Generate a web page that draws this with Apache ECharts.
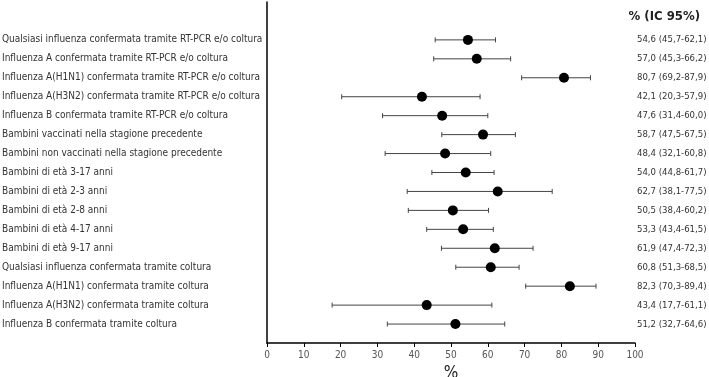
<!DOCTYPE html>
<html>
<head>
<meta charset="utf-8">
<script src="https://cdn.jsdelivr.net/npm/echarts@6/dist/echarts.min.js"></script>
<style>
  html, body { margin: 0; padding: 0; background: #fff; }
  #chart { width: 709px; height: 377px; }
</style>
</head>
<body>
<div id="chart"></div>
<script>
// righe del forest plot (dall'alto verso il basso)
var categories = [
  'Qualsiasi influenza confermata tramite RT-PCR e/o coltura',
  'Influenza A confermata tramite RT-PCR e/o coltura',
  'Influenza A(H1N1) confermata tramite RT-PCR e/o coltura',
  'Influenza A(H3N2) confermata tramite RT-PCR e/o coltura',
  'Influenza B confermata tramite RT-PCR e/o coltura',
  'Bambini vaccinati nella stagione precedente',
  'Bambini non vaccinati nella stagione precedente',
  'Bambini di età 3-17 anni',
  'Bambini di età 2-3 anni',
  'Bambini di età 2-8 anni',
  'Bambini di età 4-17 anni',
  'Bambini di età 9-17 anni',
  'Qualsiasi influenza confermata tramite coltura',
  'Influenza A(H1N1) confermata tramite coltura',
  'Influenza A(H3N2) confermata tramite coltura',
  'Influenza B confermata tramite coltura'
]
var estimates = [54.6, 57.0, 80.7, 42.1, 47.6, 58.7, 48.4, 54.0, 62.7, 50.5, 53.3, 61.9, 60.8, 82.3, 43.4, 51.2]
var lower = [45.7, 45.3, 69.2, 20.3, 31.4, 47.5, 32.1, 44.8, 38.1, 38.4, 43.4, 47.4, 51.3, 70.3, 17.7, 32.7]
var upper = [62.1, 66.2, 87.9, 57.9, 60.0, 67.5, 60.8, 61.7, 77.5, 60.2, 61.5, 72.3, 68.5, 89.4, 61.1, 64.6]
var xTicks = [0, 10, 20, 30, 40, 50, 60, 70, 80, 90, 100]

var font = '"Liberation Sans Narrow", "DejaVu Sans Condensed", sans-serif'

function fmt(v) {
  return v.toFixed(1).replace('.', ',')
}
var ciLabels = estimates.map(function (e, i) {
  return fmt(e) + ' (' + fmt(lower[i]) + '-' + fmt(upper[i]) + ')'
})

var pointData = estimates.map(function (e, i) { return [e, i] })
var barData = estimates.map(function (e, i) { return [lower[i], upper[i], i] })

var myChart = echarts.init(document.getElementById('chart'), null, { renderer: 'canvas' })

var option = {
  animation: false,
  backgroundColor: '#fff',
  title: {
    text: '% (IC 95%)',
    right: 4,
    top: 5,
    textStyle: { fontFamily: font, fontSize: 13, fontWeight: 'bold', color: '#222' }
  },
  grid: { left: 267, right: 74, top: 2, bottom: 34, outerBoundsMode: 'none', containLabel: false },
  xAxis: {
    type: 'value',
    min: 0,
    max: 100,
    interval: 10,
    name: '%',
    nameLocation: 'middle',
    nameGap: 17,
    nameTextStyle: { fontFamily: font, fontSize: 17, color: '#222' },
    axisLine: { onZero: false, lineStyle: { color: '#000', width: 1.5 } },
    axisTick: { show: true, length: 4, lineStyle: { color: '#000' } },
    axisLabel: {
      margin: 7,
      fontFamily: font,
      fontSize: 10,
      color: '#555',
      formatter: function (v) { return xTicks.indexOf(v) >= 0 ? String(v) : '' }
    },
    splitLine: { show: false }
  },
  yAxis: [
    {
      type: 'value',
      min: -2,
      max: 16,
      interval: 1,
      inverse: true,
      axisLine: { show: true, onZero: false, lineStyle: { color: '#000', width: 1.5 } },
      axisTick: { show: false },
      splitLine: { show: false },
      axisLabel: {
        align: 'left',
        margin: 265,
        fontFamily: font,
        fontSize: 10,
        color: '#333',
        formatter: function (v) { return categories[v] || '' }
      }
    },
    {
      type: 'value',
      min: -2,
      max: 16,
      interval: 1,
      inverse: true,
      position: 'right',
      axisLine: { show: false },
      axisTick: { show: false },
      splitLine: { show: false },
      axisLabel: {
        align: 'left',
        margin: 2,
        fontFamily: font,
        fontSize: 9.5,
        color: '#333',
        formatter: function (v) { return ciLabels[v] || '' }
      }
    }
  ],
  series: [
    {
      type: 'custom',
      data: barData,
      renderItem: function (params, api) {
        var a = api.coord([api.value(0), api.value(2)])
        var b = api.coord([api.value(1), api.value(2)])
        var cap = 2.5
        var style = { stroke: '#444', lineWidth: 1 }
        return {
          type: 'group',
          children: [
            { type: 'line', shape: { x1: a[0], y1: a[1], x2: b[0], y2: b[1] }, style: style },
            { type: 'line', shape: { x1: a[0], y1: a[1] - cap, x2: a[0], y2: a[1] + cap }, style: style },
            { type: 'line', shape: { x1: b[0], y1: b[1] - cap, x2: b[0], y2: b[1] + cap }, style: style }
          ]
        }
      },
      encode: { x: [0, 1], y: 2 },
      silent: true
    },
    {
      type: 'scatter',
      data: pointData,
      symbol: 'circle',
      symbolSize: 10,
      itemStyle: { color: '#000', opacity: 1 },
      z: 5
    }
  ]
}

myChart.setOption(option, true)
</script>
</body>
</html>
